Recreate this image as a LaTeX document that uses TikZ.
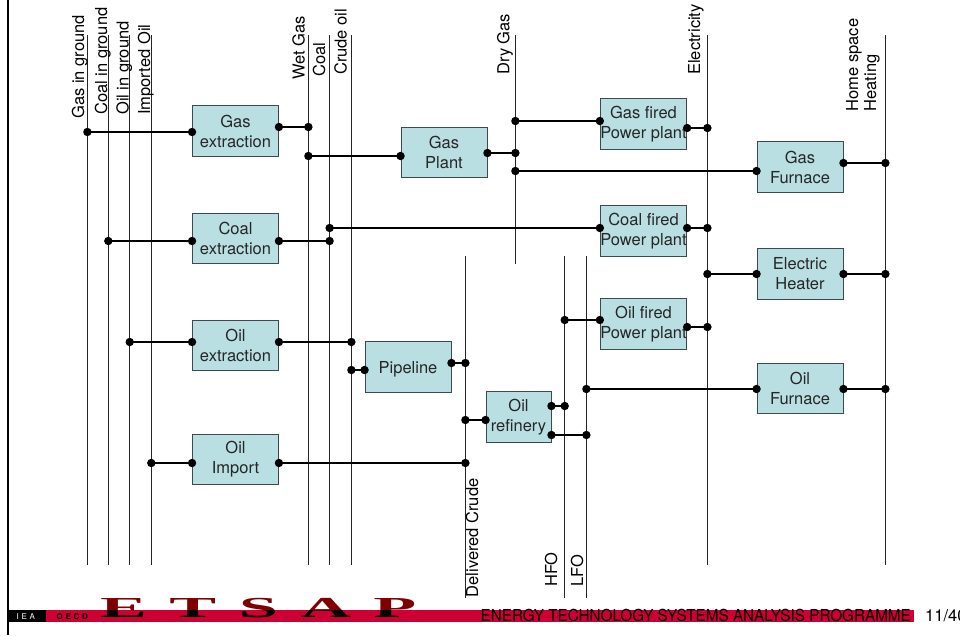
\documentclass[tikz,border=0pt]{standalone}
\usepackage{fontspec}
\usepackage{graphicx}
\setmainfont{TeX Gyre Heros}
\newfontfamily\logofont{Liberation Serif}[Scale=1]
\definecolor{boxfill}{HTML}{B9DFE3}
\definecolor{boxedge}{HTML}{3C4A4C}
\definecolor{bandred}{HTML}{CC0033}
\definecolor{logored}{HTML}{7F0000}
\tikzset{
  x=1pt,y=-1pt,
  every node/.style={font=\fontsize{16.5}{20}\selectfont},
  procbox/.style={draw=boxedge,line width=0.9pt,fill=boxfill,minimum width=86pt,minimum height=50.5pt,inner sep=0pt,align=center,text=black!85,execute at begin node={\rule{0pt}{16.5pt}}},
  singlebox/.style={procbox,execute at begin node={\rule{0pt}{14pt}}},
  dot/.style={circle,fill=black,inner sep=0pt,minimum size=8.4pt},
  wire/.style={line width=1.9pt,black},
  bus/.style={line width=1.1pt,black!85},
  uplabel/.style={rotate=90,anchor=base west,inner sep=0pt},
}
\newcommand{\conn}[4]{%
  \node[dot] (#1a) at (#2 |- 0,#4) {};
  \node[dot] (#1b) at (#3 |- 0,#4) {};
  \draw[wire] (#1a.center) -- (#1b.center);
}
\begin{document}
\begin{tikzpicture}
\useasboundingbox (0,0) rectangle (960,635);
% frame and band
\coordinate (barT) at (8.2,0);
\coordinate (barB) at (8.2,635);
\draw[line width=2.4pt,black] (barT) -- (barB);
\fill[bandred] (46,610) rectangle (914,622);
\fill[black] (7,610) rectangle (46,622);
\node[text=white,font=\fontsize{8}{9}\selectfont,anchor=base west,inner sep=0pt] (iea) at (16.5,619) {I\,\,E\,\,A};
\node[text=black,font=\bfseries\fontsize{8}{9}\selectfont,anchor=base west,inner sep=0pt] (oecd) at (56.5,619) {O\,\,E\,\,C\,\,D};
% logo
\node[anchor=base west,inner sep=0pt,text=logored,font=\logofont\bfseries\fontsize{29}{29}\selectfont] (logo) at (100,617.5)
  {\scalebox{2.42}[1]{E\hspace{9.3pt}T\hspace{9.3pt}S\hspace{9.3pt}A\hspace{9.3pt}P}};
\begin{scope}
\clip (46,610) rectangle (914,622);
\node[anchor=base west,inner sep=0pt,text=black,font=\logofont\bfseries\fontsize{29}{29}\selectfont] (logob) at (100,617.5)
  {\scalebox{2.42}[1]{E\hspace{9.3pt}T\hspace{9.3pt}S\hspace{9.3pt}A\hspace{9.3pt}P}};
\end{scope}
\node[anchor=base west,inner sep=0pt] (prog) at (480.5,621.5) {\scalebox{0.925}[1]{ENERGY TECHNOLOGY SYSTEMS ANALYSIS PROGRAMME}};
\node[anchor=base west,inner sep=0pt] (pagenum) at (925,621.5) {11/40};
% buses
\foreach \n/\x/\a/\b in {gas/87.4/35/565,coalg/108.3/35/565,oilg/129.7/35/565,imp/151.3/35/565,
  wet/308.4/35/565,coal/329.6/35/565,crude/351.4/35/565,dry/515.4/35/264,elec/707.4/35/565,home/885.4/35/565,
  deliv/465.4/256/598,hfo/564.7/256/598,lfo/586.4/256/598}{
  \coordinate (\n T) at (\x,\a);
  \coordinate (\n B) at (\x,\b);
  \draw[bus] (\n T) -- (\n B);
}
% bus labels
\node[uplabel] (lgas) at (84,119) {Gas in ground};
\node[uplabel] (lcoalg) at (107,115) {Coal in ground};
\node[uplabel] (loilg) at (128.5,115) {Oil in ground};
\node[uplabel] (limp) at (150,115) {Imported Oil};
\node[uplabel] (lwet) at (304.5,80) {Wet Gas};
\node[uplabel] (lcoal) at (325,77) {Coal};
\node[uplabel] (lcrude) at (346.7,75) {Crude oil};
\node[uplabel] (ldry) at (509.3,75) {Dry Gas};
\node[uplabel] (lelec) at (700,75) {Electricity};
\node[rotate=90,anchor=west,align=left,inner sep=0pt,font=\fontsize{16.5}{18}\selectfont] (lhome) at (862.8,111.5) {Home space\\Heating};
\node[uplabel] (ldeliv) at (478,597.5) {Delivered Crude};
\node[uplabel] (lhfo) at (557,587) {HFO};
\node[uplabel] (llfo) at (583,587) {LFO};
% process boxes
\node[procbox] (gasext) at (235.5,131) {Gas\\extraction};
\node[procbox] (coalext) at (235.5,238.5) {Coal\\extraction};
\node[procbox] (oilext) at (235.5,345.5) {Oil\\extraction};
\node[procbox] (oilimp) at (235.5,459.5) {Oil\\Import};
\node[procbox] (gasplant) at (444,152.5) {Gas\\Plant};
\node[singlebox] (pipe) at (408,367) {Pipeline};
\node[procbox,minimum width=65pt] (refin) at (518.5,416.7) {Oil\\refinery};
\node[procbox] (gasfired) at (643.5,124) {Gas fired\\Power plant};
\node[procbox] (coalfired) at (643.5,231) {Coal fired\\Power plant};
\node[procbox] (oilfired) at (643.5,324) {Oil fired\\Power plant};
\node[procbox] (gasfurn) at (800,167) {Gas\\Furnace};
\node[procbox] (heater) at (800,274) {Electric\\Heater};
\node[procbox] (oilfurn) at (800,388.5) {Oil\\Furnace};
% connectors
\conn{w1}{gasT}{gasext.west}{132}
\conn{w2}{gasext.east}{wetT}{127}
\conn{w3}{wetT}{gasplant.west}{156}
\conn{w4}{gasplant.east}{dryT}{153}
\conn{w5}{dryT}{gasfired.west}{121}
\conn{w6}{gasfired.east}{elecT}{128}
\conn{w7}{dryT}{gasfurn.west}{171}
\conn{w8}{gasfurn.east}{homeT}{163}
\conn{w9}{coalgT}{coalext.west}{241}
\conn{w10}{coalext.east}{coalT}{241}
\conn{w11}{coalT}{coalfired.west}{228}
\conn{w12}{coalfired.east}{elecT}{228}
\conn{w13}{elecT}{heater.west}{274}
\conn{w14}{heater.east}{homeT}{274}
\conn{w15}{oilgT}{oilext.west}{342}
\conn{w16}{oilext.east}{crudeT}{342}
\conn{w17}{crudeT}{pipe.west}{370}
\conn{w18}{pipe.east}{delivT}{363}
\conn{w19}{delivT}{refin.west}{420}
\conn{w20}{refin.east}{hfoT}{406}
\conn{w21}{refin.east}{lfoT}{435}
\conn{w22}{hfoT}{oilfired.west}{320}
\conn{w23}{oilfired.east}{elecT}{327}
\conn{w24}{lfoT}{oilfurn.west}{389}
\conn{w25}{oilfurn.east}{homeT}{389}
\conn{w26}{impT}{oilimp.west}{463}
\conn{w27}{oilimp.east}{delivT}{463}
\end{tikzpicture}
\end{document}
